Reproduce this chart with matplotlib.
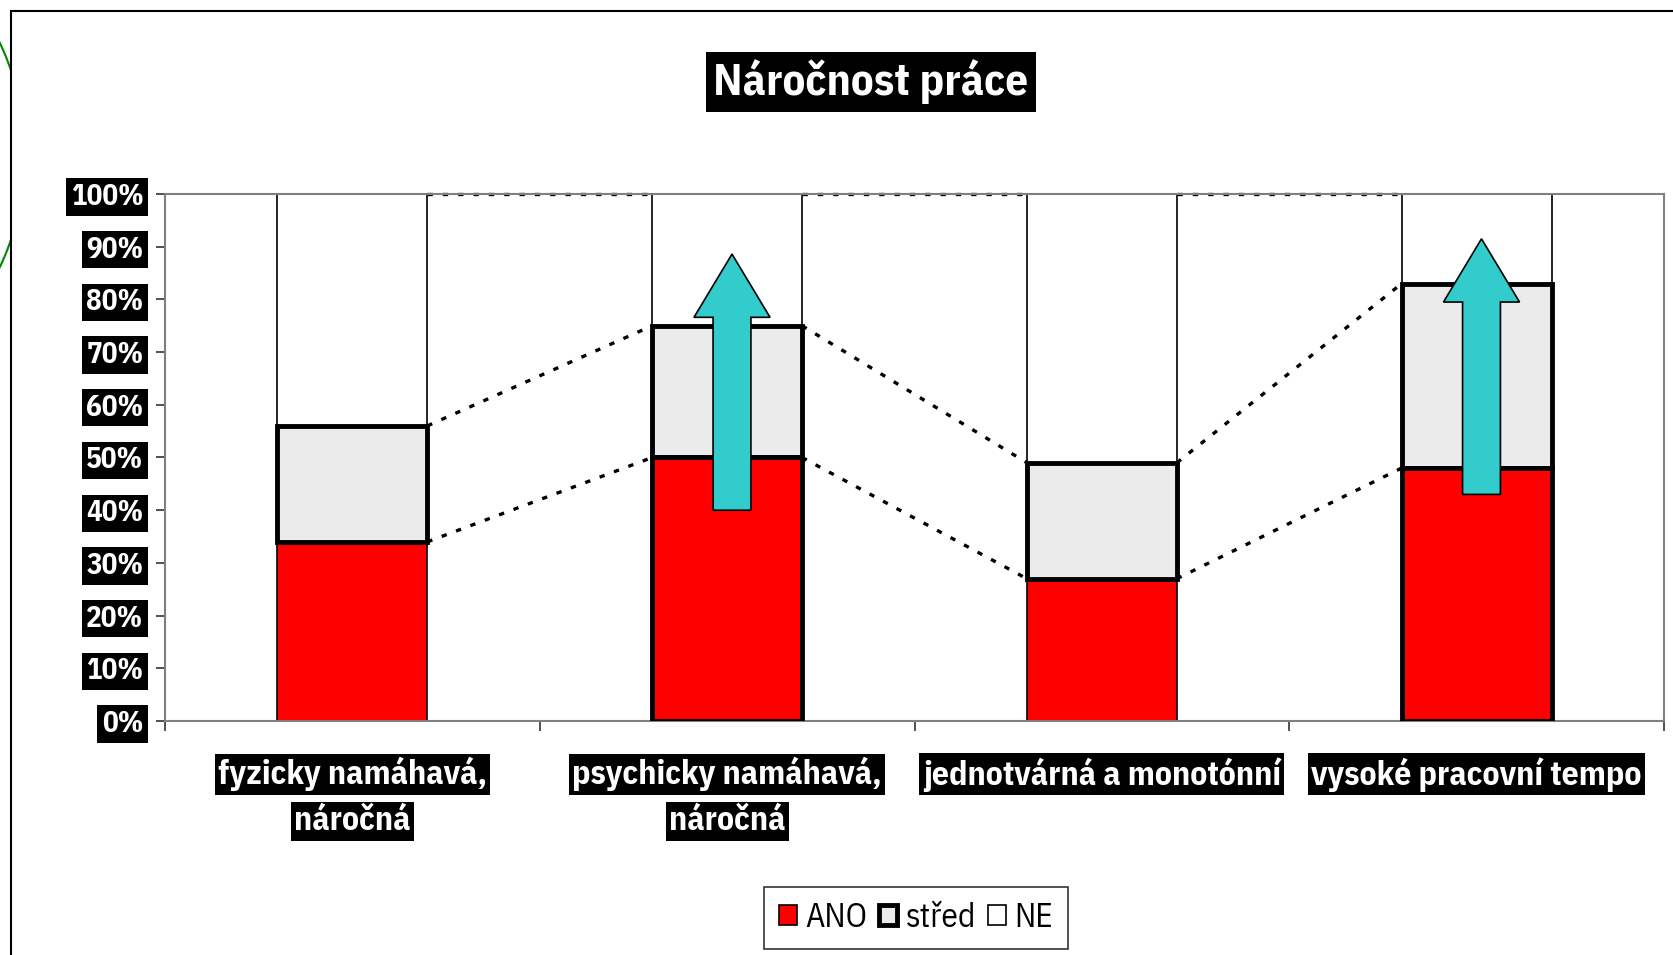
import matplotlib.pyplot as plt
from matplotlib.patches import Patch, Rectangle, Ellipse, FancyArrow
from matplotlib.transforms import IdentityTransform

plt.rcParams['font.family'] = ['IBM Plex Sans Condensed', 'DejaVu Sans']

# data (percent)
categories = ["fyzicky namáhavá,\nnáročná", "psychicky namáhavá,\nnáročná",
              "jednotvárná a monotónní", "vysoké pracovní tempo"]
ano = [34, 50, 27, 48]
stred = [22, 25, 22, 35]
ne = [44, 25, 51, 17]
series_names = ["ANO", "střed", "NE"]
yticks = [0, 10, 20, 30, 40, 50, 60, 70, 80, 90, 100]

# which segments have the heavy outline
thick_ano = [False, True, False, True]
thick_stred = [True, True, True, True]

# cyan arrows drawn over bars 2 and 4
arrow_bars = [1, 3]
arrow_from = [40, 43]
arrow_to = [88.6, 91.5]

RED = "#ff0000"
GREY = "#ebebeb"
CYAN = "#33cccc"

fig = plt.figure(figsize=(16.73, 9.55), dpi=100)
fig.patch.set_facecolor("white")

# green shape peeking out at the left and the chart area frame
fig.patches.append(Ellipse((-200, 955 - 155), 450, 488, fill=False, edgecolor="#008800",
                           lw=1.5, transform=IdentityTransform(), zorder=-3))
fig.patches.append(Rectangle((11 / 1673, -0.01), 1.0, 1 - 11 / 955 + 0.01, facecolor="white",
                             edgecolor="black", lw=1.5, transform=fig.transFigure, zorder=-2))

ax = fig.add_axes([165 / 1673, 1 - 721 / 955, (1664 - 165) / 1673, (721 - 194) / 955])
ax.set_xlim(-0.5, len(categories) - 0.5)
ax.set_ylim(0, 100)

width = 0.4
x = list(range(len(categories)))
for i in x:
    bottom_st = ano[i]
    bottom_ne = ano[i] + stred[i]
    ax.bar(i, ne[i], width, bottom=bottom_ne, color="white", edgecolor="black", lw=1.2, zorder=2)
    ax.bar(i, stred[i], width, bottom=bottom_st, color=GREY,
           edgecolor="black", lw=3.5 if thick_stred[i] else 1.2, zorder=3 if thick_stred[i] else 2)
    ax.bar(i, stred[i], width, bottom=bottom_st, fill=False, hatch="....",
           edgecolor="#d2d2d2", lw=0, zorder=2.5)
    ax.bar(i, ano[i], width, color=RED, edgecolor="black",
           lw=3.5 if thick_ano[i] else 1.2, zorder=3 if thick_ano[i] else 2)

# series lines between the bars
tops = [ano, [a + s for a, s in zip(ano, stred)], [a + s + n for a, s, n in zip(ano, stred, ne)]]
for t in tops:
    for i in range(len(categories) - 1):
        ax.plot([i + width / 2, i + 1 - width / 2], [t[i], t[i + 1]], color="black",
                lw=2.4, linestyle=(0, (1.6, 3.0)), zorder=1.5, clip_on=False)

for b, y0, y1 in zip(arrow_bars, arrow_from, arrow_to):
    ax.add_patch(FancyArrow(b + 0.013, y0, 0, y1 - y0, width=0.101, head_width=0.203,
                            head_length=12, length_includes_head=True,
                            facecolor=CYAN, edgecolor="black", lw=1.2, zorder=5))

# axes styling
for s in ax.spines.values():
    s.set_color("#808080")
    s.set_linewidth(1.5)

ax.set_yticks(yticks)
ax.set_yticklabels([f"{v}%" for v in yticks])
ax.tick_params(axis="y", direction="out", length=6.5, width=1.2, color="#333333", pad=9,
               labelsize=21, labelcolor="white")
for lab in ax.get_yticklabels():
    lab.set_fontweight("bold")
    lab.set_bbox(dict(boxstyle="square,pad=0.16", fc="black", ec="none"))

ax.set_xticks([i - 0.5 for i in range(len(categories) + 1)])
ax.set_xticklabels([])
ax.tick_params(axis="x", direction="out", length=7.5, width=1.2, color="#333333")

for i, cat in enumerate(categories):
    for j, line in enumerate(cat.split("\n")):
        ax.text(i, -10.1 - 8.9 * j, line, ha="center", va="center", fontsize=24.3,
                fontweight="bold", color="white", clip_on=False,
                bbox=dict(boxstyle="square,pad=0.1", fc="black", ec="none"))

fig.text(871 / 1673, 1 - 82 / 955, "Náročnost práce", ha="center", va="center",
         fontsize=32.5, fontweight="bold", color="white",
         bbox=dict(boxstyle="square,pad=0.16", fc="black", ec="none"))

handles = [Patch(facecolor=RED, edgecolor="black", lw=1.2),
           Patch(facecolor=GREY, edgecolor="black", lw=3.5),
           Patch(facecolor="white", edgecolor="black", lw=1.2)]
leg = fig.legend(handles, series_names, loc="center", bbox_to_anchor=(916 / 1673, 1 - 918 / 955),
                 ncol=3, fontsize=24, frameon=True, fancybox=False, edgecolor="black",
                 handlelength=0.55, handleheight=0.55, handletextpad=0.25, columnspacing=0.35,
                 borderpad=0.45)
leg.get_frame().set_linewidth(1.2)

fig.savefig("out.png", dpi=100)
